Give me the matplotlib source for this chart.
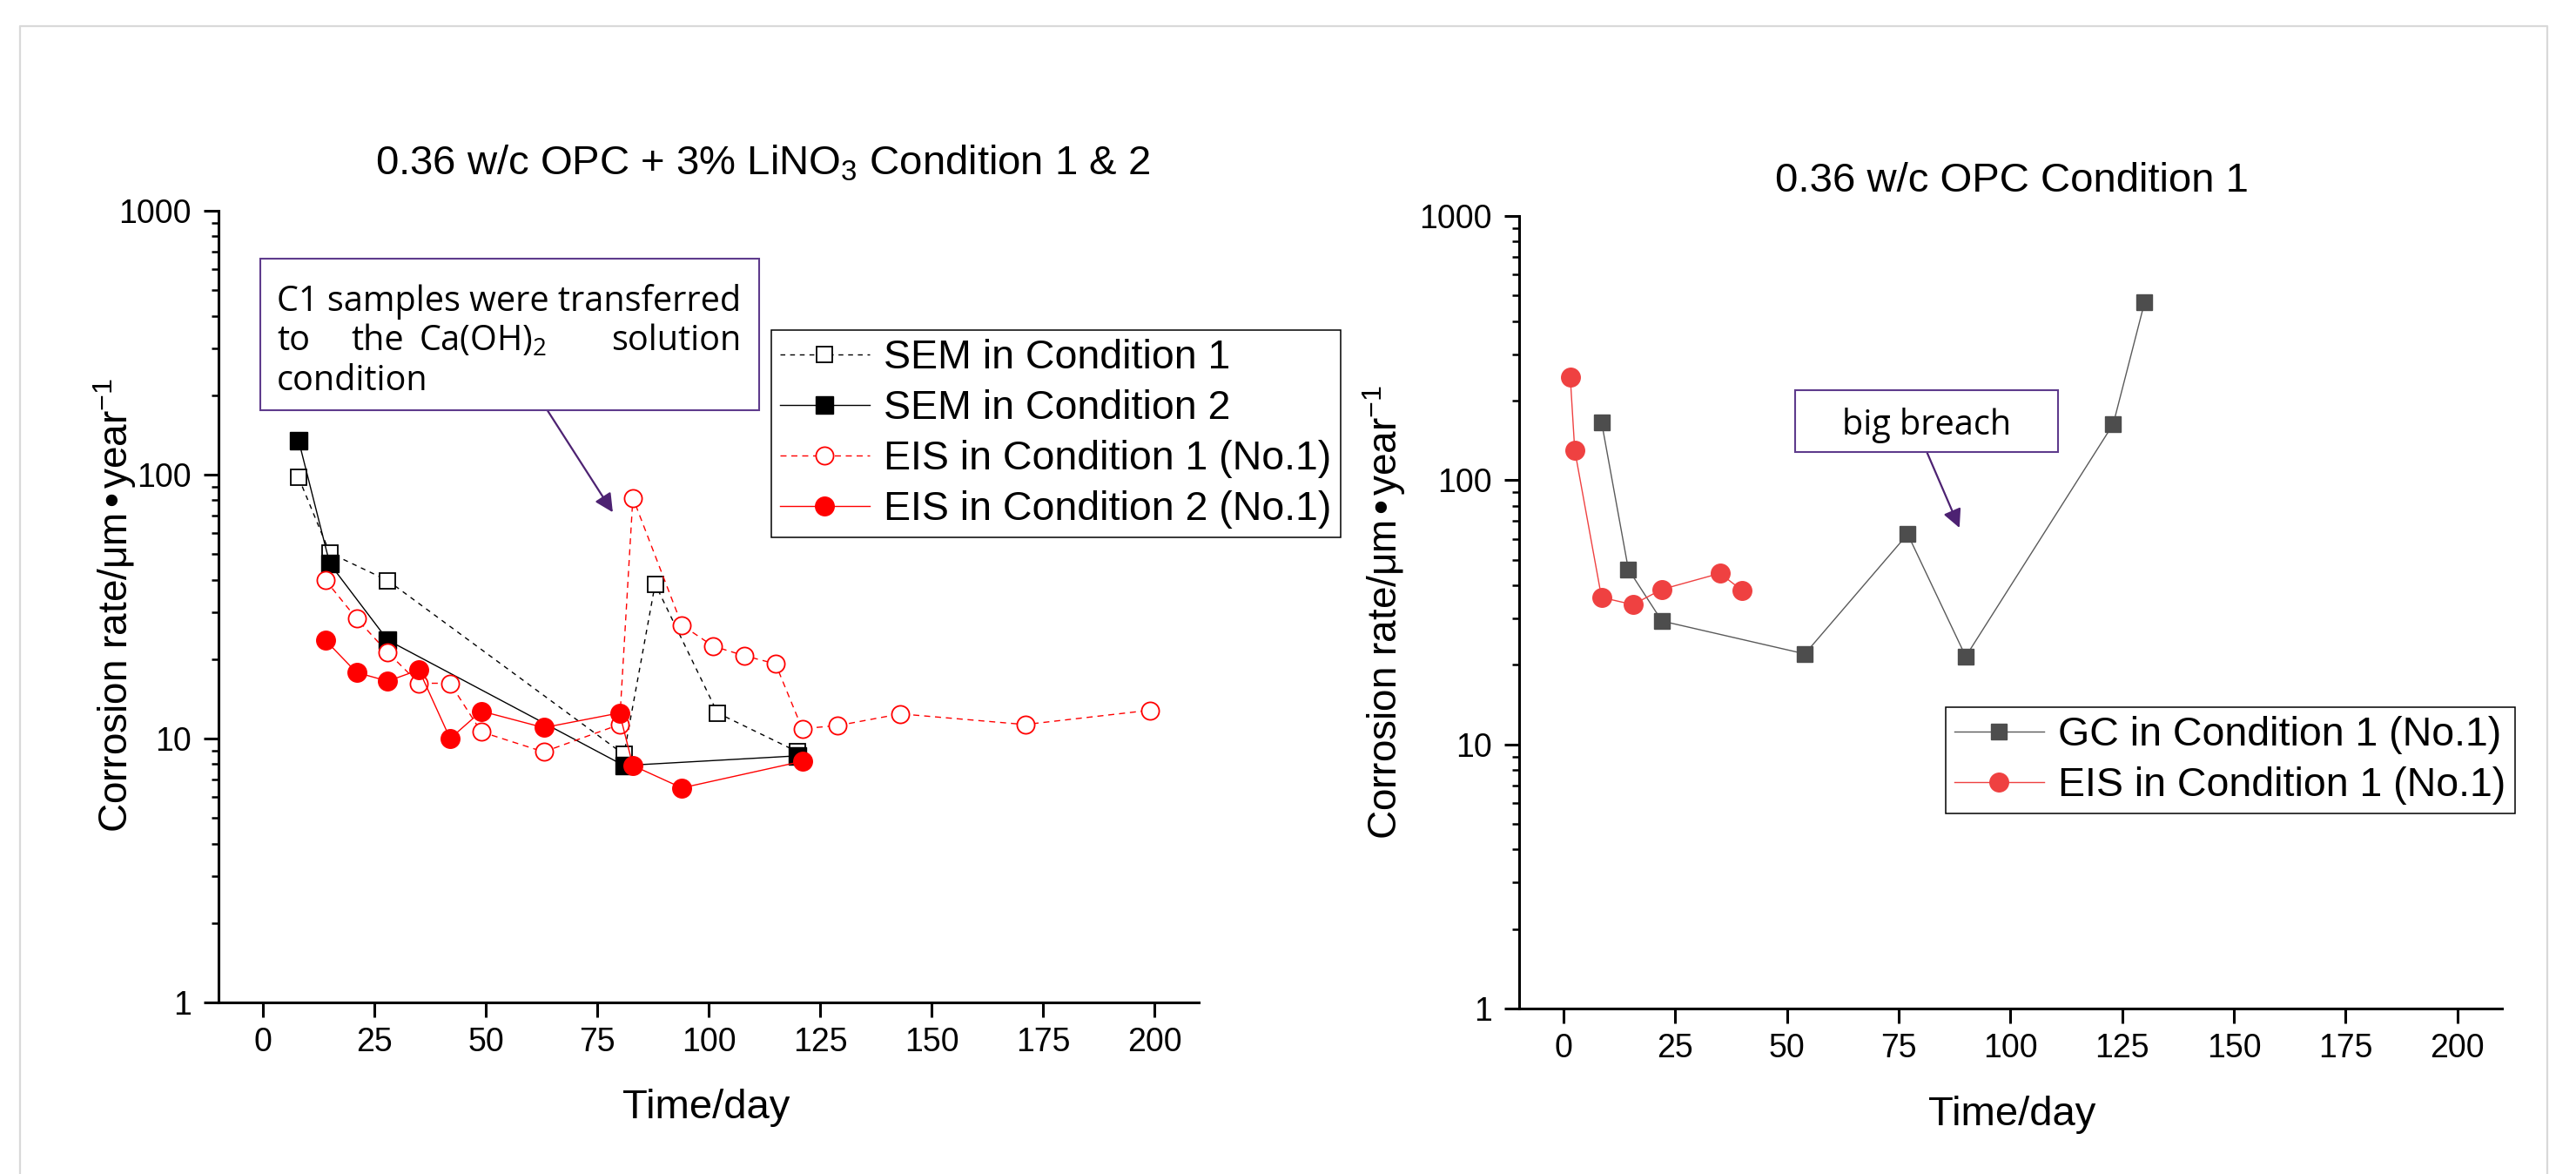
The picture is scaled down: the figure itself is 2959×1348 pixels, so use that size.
import matplotlib.pyplot as plt
from matplotlib.lines import Line2D
from matplotlib.patches import Rectangle
from matplotlib.ticker import LogLocator, NullFormatter

plt.rcParams['font.family'] = ['Liberation Sans', 'DejaVu Sans']
plt.rcParams['mathtext.default'] = 'regular'

W, H, DPI = 2959, 1348, 100

# ---- left panel: 0.36 w/c OPC + 3% LiNO3 ----
sem_c1_day = [8, 15, 28, 81, 88, 102, 120]
sem_c1_rate = [97.5, 50.5, 39.7, 8.7, 38.5, 12.5, 8.9]
sem_c2_day = [8, 15, 28, 81, 120]
sem_c2_rate = [135, 46, 23.6, 7.9, 8.6]
eis_c1_day = [14, 21, 28, 35, 42, 49, 63, 80, 83, 94, 101, 108, 115, 121, 129, 143, 171, 199]
eis_c1_rate = [39.9, 28.5, 21.2, 16.2, 16.2, 10.6, 8.9, 11.3, 81.7, 26.9, 22.4, 20.6, 19.2,
               10.9, 11.2, 12.4, 11.3, 12.8]
eis_c2_day = [14, 21, 28, 35, 42, 49, 63, 80, 83, 94, 121]
eis_c2_rate = [23.6, 17.8, 16.5, 18.2, 10.0, 12.7, 11.0, 12.5, 7.9, 6.5, 8.2]

# ---- right panel: 0.36 w/c OPC ----
gc_day = [8.5, 14.5, 22, 54, 77, 90, 123, 130]
gc_rate = [166, 46, 29.3, 22, 62.5, 21.5, 163, 470]
eis_r_day = [1.5, 2.5, 8.5, 15.5, 22, 35, 40]
eis_r_rate = [246, 130, 36, 33.8, 38.6, 44.4, 38.2]

x_ticks = [0, 25, 50, 75, 100, 125, 150, 175, 200]
y_ticks = [1, 10, 100, 1000]
y_label = 'Corrosion rate/μm•year$^{-1}$'


def fx(x):
    return x / W


def fy(y):
    return 1 - y / H


def style_axes(ax):
    ax.set_yscale('log')
    ax.set_xlim(-10, 210)
    ax.set_ylim(1, 1000)
    ax.set_xticks(x_ticks)
    ax.set_xticklabels([str(t) for t in x_ticks])
    ax.set_yticks(y_ticks)
    ax.set_yticklabels([str(t) for t in y_ticks])
    ax.yaxis.set_minor_locator(LogLocator(base=10, subs=range(2, 10)))
    ax.yaxis.set_minor_formatter(NullFormatter())
    for s in ['top', 'right']:
        ax.spines[s].set_visible(False)
    for s in ['left', 'bottom']:
        ax.spines[s].set_linewidth(2.2)
    ax.tick_params(which='major', direction='out', length=12.2, width=2.2, labelsize=27)
    ax.tick_params(which='minor', direction='out', length=5.5, width=1.8)
    ax.tick_params(axis='x', pad=8)
    ax.tick_params(axis='y', pad=10)


fig = plt.figure(figsize=(W / DPI, H / DPI), dpi=DPI)

# light grey frame around the figure
fig.add_artist(Line2D([fx(23), fx(23), fx(2926), fx(2926)], [0, fy(30), fy(30), 0],
                      transform=fig.transFigure, color='#d9d9d9', lw=1.6))

ax1 = fig.add_axes([fx(250.8), fy(1151), (1377.2 - 250.8) / W, 909 / H])
ax2 = fig.add_axes([fx(1744.7), fy(1158), (2874 - 1744.7) / W, 910 / H])

# left panel
ax1.plot(sem_c1_day, sem_c1_rate, color='black', lw=1.0, ls=(0, (4, 4)),
         marker='s', ms=13, mfc='white', mec='black', mew=1.3, label='SEM in Condition 1')
ax1.plot(sem_c2_day, sem_c2_rate, color='black', lw=1.0,
         marker='s', ms=14, mfc='black', mec='black', label='SEM in Condition 2')
ax1.plot(eis_c1_day, eis_c1_rate, color='red', lw=1.0, ls=(0, (5, 4)),
         marker='o', ms=14.5, mfc='white', mec='red', mew=1.3, label='EIS in Condition 1 (No.1)')
ax1.plot(eis_c2_day, eis_c2_rate, color='red', lw=1.0,
         marker='o', ms=15.5, mfc='red', mec='red', label='EIS in Condition 2 (No.1)')

# right panel
ax2.plot(gc_day, gc_rate, color='#5a5a5a', lw=1.0,
         marker='s', ms=13.5, mfc='#4d4d4d', mec='#4d4d4d', label='GC in Condition 1 (No.1)')
ax2.plot(eis_r_day, eis_r_rate, color='#ef4141', lw=1.0,
         marker='o', ms=15.5, mfc='#ef4141', mec='#ef4141', label='EIS in Condition 1 (No.1)')

for ax in (ax1, ax2):
    style_axes(ax)

leg_kw = dict(loc='upper left', bbox_transform=fig.transFigure, borderaxespad=0,
              fontsize=33.5, frameon=True, fancybox=False, framealpha=1, edgecolor='black',
              handlelength=2.2, handletextpad=0.36, labelspacing=0.3, borderpad=0.22,
              numpoints=1)
l1 = ax1.legend(bbox_to_anchor=(fx(886), fy(379)), **leg_kw)
l2 = ax2.legend(bbox_to_anchor=(fx(2235), fy(812)), **leg_kw)
for lg in (l1, l2):
    lg.get_frame().set_linewidth(1.1)

# titles
fig.text(fx(876), fy(200), '0.36 w/c OPC + 3% LiNO$_3$ Condition 1 & 2',
         ha='center', va='baseline', fontsize=34)
fig.text(fx(2311), fy(220), '0.36 w/c OPC Condition 1', ha='center', va='baseline', fontsize=34)

# axis labels
for ax, xl, yl in ((ax1, (811, 1284), (132, 695)), (ax2, (2311, 1292), (1590, 703))):
    ax.set_xlabel('Time/day', fontsize=34)
    ax.xaxis.label.set_va('baseline')
    ax.xaxis.set_label_coords(fx(xl[0]), fy(xl[1]), transform=fig.transFigure)
    ax.set_ylabel(y_label, fontsize=33)
    ax.yaxis.label.set_rotation_mode('default')
    ax.yaxis.label.set_va('center')
    ax.yaxis.label.set_ha('center')
    ax.yaxis.set_label_coords(fx(yl[0]), fy(yl[1]), transform=fig.transFigure)

# annotation boxes
box_color = '#5e3b8c'
arrow_color = '#4d2272'
note_font = ['Open Sans', 'DejaVu Sans']
fs_note = 28.5
fig.add_artist(Rectangle((fx(299), fy(471)), (872 - 299) / W, (471 - 297) / H,
                         transform=fig.transFigure, fc='white', ec=box_color, lw=1.5, zorder=5))
note_lines = [
    (318, 357, 'C1 samples were transferred', 'left'),
    (318, 402, 'to', 'left'),
    (403, 402, 'the', 'left'),
    (481, 402, 'Ca(OH)$_2$', 'left'),
    (851, 402, 'solution', 'right'),
    (318, 448, 'condition', 'left'),
]
for x, y, s, ha in note_lines:
    fig.text(fx(x), fy(y), s, ha=ha, va='baseline', fontsize=fs_note, family=note_font, zorder=6)

fig.add_artist(Rectangle((fx(2061.5), fy(519)), (2364 - 2061.5) / W, (519 - 447.7) / H,
                         transform=fig.transFigure, fc='white', ec=box_color, lw=1.5, zorder=5))
fig.text(fx(2213), fy(499), 'big breach', ha='center', va='baseline', fontsize=fs_note,
         family=note_font, zorder=6)

arrow_kw = dict(arrowstyle='-|>', color=arrow_color, lw=1.6, mutation_scale=32,
                shrinkA=0, shrinkB=0)
ax1.annotate('', xy=(78.5, 72), xycoords='data', xytext=(628.7, H - 471),
             textcoords='figure pixels', arrowprops=arrow_kw)
ax2.annotate('', xy=(88.6, 66), xycoords='data', xytext=(2213.3, H - 519),
             textcoords='figure pixels', arrowprops=arrow_kw)

fig.savefig('out.png', dpi=DPI, facecolor='white')
